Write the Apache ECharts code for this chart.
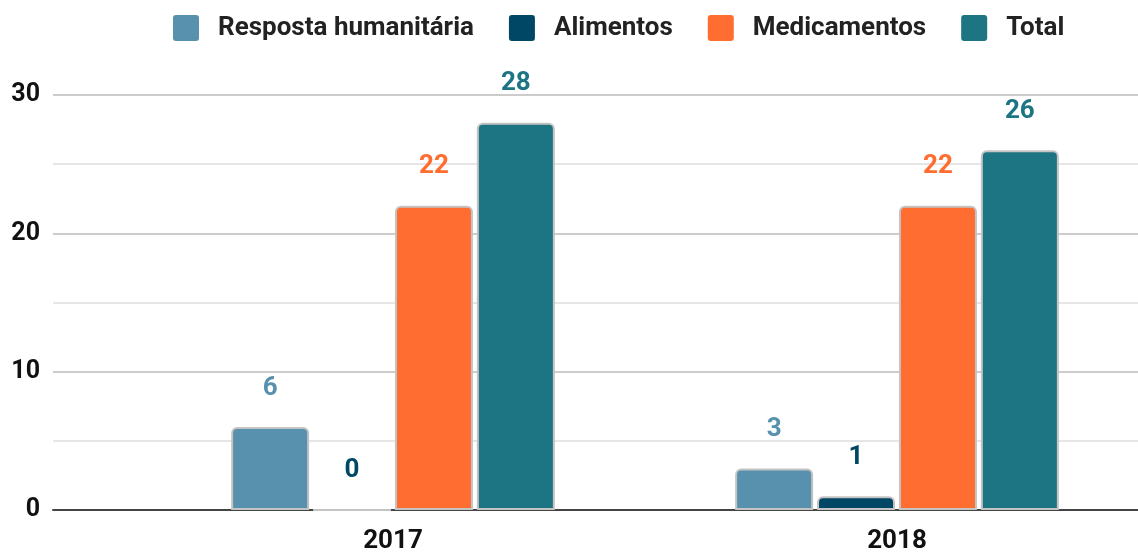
<!DOCTYPE html>
<html>
<head>
<meta charset="utf-8">
<script src="https://cdn.jsdelivr.net/npm/echarts@6/dist/echarts.min.js"></script>
<style>
  html, body { margin: 0; padding: 0; background: #fff; }
  #chart { width: 1138px; height: 556px; }
</style>
</head>
<body>
<div id="chart"></div>
<script>
// dados
const anos = ['2017', '2018'];
const respostaHumanitaria = [6, 3];
const alimentos = [0, 1];
const medicamentos = [22, 22];
const total = [28, 26];

const cores = ['#5891AD', '#004766', '#FF6D31', '#1D7483'];
const nomes = ['Resposta humanitária', 'Alimentos', 'Medicamentos', 'Total'];
const valores = [respostaHumanitaria, alimentos, medicamentos, total];

let myChart = echarts.init(document.getElementById('chart'));

const fonte = 'Roboto, "Noto Sans", sans-serif';
const quadrado = 'path://M3,0H23A3,3,0,0,1,26,3V23A3,3,0,0,1,23,26H3A3,3,0,0,1,0,23V3A3,3,0,0,1,3,0Z';

let option = {
  animation: false,
  textStyle: { fontFamily: fonte },
  legend: {
    left: 168,
    top: 10,
    itemWidth: 26,
    itemHeight: 26,
    itemGap: 35,
    icon: quadrado,
    itemStyle: { borderWidth: 0 },
    textStyle: {
      fontFamily: fonte,
      fontSize: 26,
      fontWeight: 'bold',
      color: '#222',
      padding: [0, 0, 0, 14]
    },
    data: nomes
  },
  grid: [
    // grade com as linhas do eixo y
    { left: 53, right: 0, top: 95, bottom: 46, outerBoundsMode: 'none' },
    // grade das barras
    { left: 141, width: 1008, top: 95, bottom: 46, outerBoundsMode: 'none' }
  ],
  xAxis: [
    {
      type: 'value', gridIndex: 0, min: 0, max: 1,
      axisLine: { show: true, lineStyle: { color: '#444', width: 2 } },
      axisTick: { show: false }, axisLabel: { show: false }, splitLine: { show: false }
    },
    {
      type: 'category', gridIndex: 1, data: anos,
      axisLine: { show: false }, axisTick: { show: false },
      axisLabel: { margin: 18, fontFamily: fonte, fontSize: 26, fontWeight: 'bold', color: '#111' }
    }
  ],
  yAxis: [
    {
      type: 'value', gridIndex: 0, min: 0, max: 30, interval: 5,
      axisLine: { show: false }, axisTick: { show: false },
      axisLabel: {
        margin: 13, fontFamily: fonte, fontSize: 25, fontWeight: 'bold', color: '#111',
        formatter: v => (v % 10 === 0 ? String(v) : '')
      },
      splitLine: { lineStyle: { color: ['#cccccc', '#e6e6e6'], width: 2 } }
    },
    {
      type: 'value', gridIndex: 1, min: 0, max: 30, interval: 5, show: false,
      splitLine: { show: false }
    }
  ],
  series: nomes.map((nome, i) => ({
    name: nome,
    type: 'bar',
    xAxisIndex: 1,
    yAxisIndex: 1,
    data: valores[i],
    barWidth: 78,
    barGap: '5%',
    itemStyle: {
      color: cores[i],
      borderColor: '#c4c4c4',
      borderWidth: 2,
      borderRadius: [5, 5, 0, 0]
    },
    label: {
      show: true,
      position: 'top',
      distance: 26,
      fontFamily: fonte,
      fontSize: 26,
      fontWeight: 'bold',
      color: cores[i]
    }
  }))
};

myChart.setOption(option);
</script>
</body>
</html>
